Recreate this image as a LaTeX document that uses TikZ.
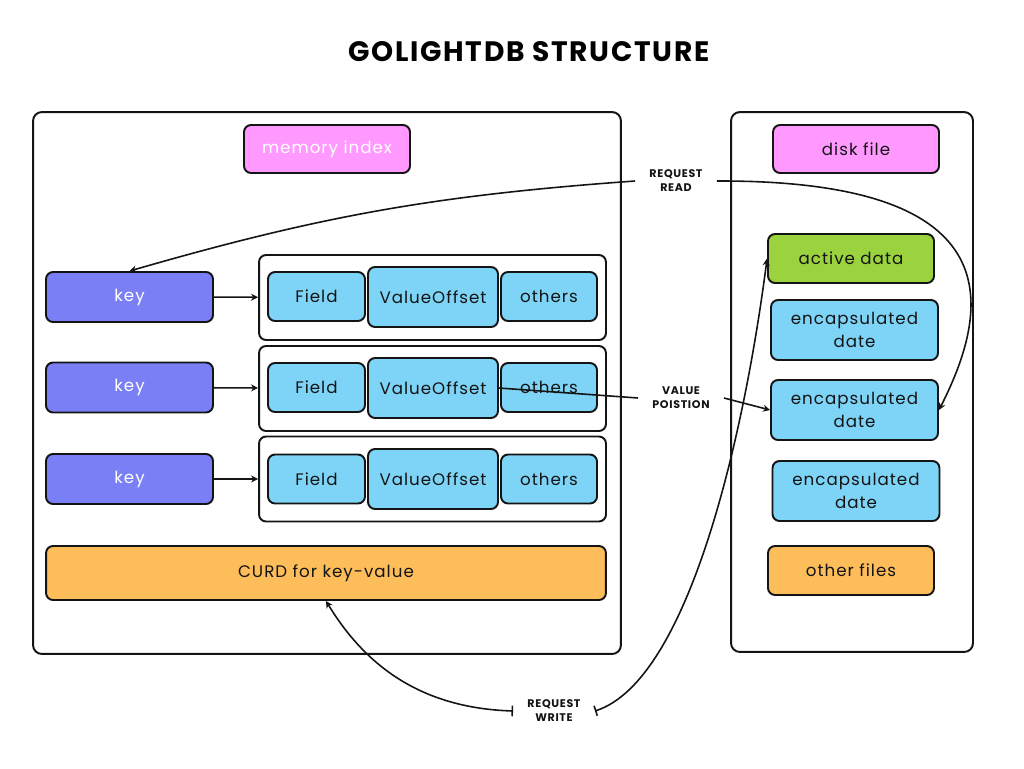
\documentclass[tikz,border=0pt]{standalone}
\usepackage{fontspec}
\setmainfont{Poppins}[LetterSpace=6]
\usetikzlibrary{arrows.meta}
\definecolor{golightPink}{RGB}{255, 153, 255}
\definecolor{golightKey}{RGB}{122, 127, 245}
\definecolor{golightBlue}{RGB}{125, 212, 246}
\definecolor{golightOrange}{RGB}{253, 189, 91}
\definecolor{golightGreen}{RGB}{155, 211, 63}
\definecolor{golightInk}{RGB}{20, 20, 20}

\begin{document}
\begin{tikzpicture}[x=0.02cm, y=-0.02cm,
    panel/.style={draw=golightInk, line width=1.1pt, rounded corners=5pt, inner sep=0pt},
    box/.style={draw=golightInk, line width=1.1pt, rounded corners=4pt, inner sep=0pt, text=golightInk, font=\fontsize{9.5}{12.5}\selectfont, align=center},
    tag/.style={font=\bfseries\fontsize{6.3}{8}\selectfont, align=center, text=golightInk, inner xsep=8pt},
    link/.style={draw=golightInk, line width=0.9pt},
    tip/.style={-{Stealth[length=4pt, width=4pt]}}]
    % Canvas
    \useasboundingbox[fill=white] (0,0) rectangle (1024,768);

    % Title
    \node[font=\bfseries\fontsize{16}{18}\selectfont, text=black] (title) at (529,52) {GOLIGHTDB STRUCTURE};

    % Panels
    \node[panel, minimum width=11.76cm, minimum height=10.84cm] (memory) at (327,383) {};
    \node[panel, minimum width=4.84cm, minimum height=10.8cm] (disk) at (852,382) {};

    % Panel headers
    \node[box, fill=golightPink, text=white, minimum width=3.32cm, minimum height=0.96cm] (memidx) at (327,149) {memory index};
    \node[box, fill=golightPink, minimum width=3.32cm, minimum height=0.96cm] (diskfile) at (856,149) {disk file};

    % Keys
    \node[box, fill=golightKey, text=white, minimum width=3.34cm, minimum height=1.0cm] (key1) at (129.5,297) {key};
    \node[box, fill=golightKey, text=white, minimum width=3.34cm, minimum height=1.0cm] (key2) at (129.5,387.5) {key};
    \node[box, fill=golightKey, text=white, minimum width=3.34cm, minimum height=1.0cm] (key3) at (129.5,479) {key};

    % Records
    \node[panel, rounded corners=4pt, minimum width=6.94cm, minimum height=1.7cm] (rec1) at (432.5,297.5) {};
    \node[panel, rounded corners=4pt, minimum width=6.94cm, minimum height=1.7cm] (rec2) at (432.5,388.5) {};
    \node[panel, rounded corners=4pt, minimum width=6.94cm, minimum height=1.7cm] (rec3) at (432.5,479) {};

    \node[box, fill=golightBlue, minimum width=1.94cm, minimum height=0.98cm] (field1) at (316.5,296.5) {Field};
    \node[box, fill=golightBlue, minimum width=2.6cm, minimum height=1.2cm] (offset1) at (433,297) {ValueOffset};
    \node[box, fill=golightBlue, minimum width=1.92cm, minimum height=0.98cm] (others1) at (549,296.5) {others};

    \node[box, fill=golightBlue, minimum width=1.94cm, minimum height=0.98cm] (field2) at (316.5,387.5) {Field};
    \node[box, fill=golightBlue, minimum width=2.6cm, minimum height=1.2cm] (offset2) at (433,388) {ValueOffset};
    \node[box, fill=golightBlue, minimum width=1.92cm, minimum height=0.98cm] (others2) at (549,387.5) {others};

    \node[box, fill=golightBlue, minimum width=1.94cm, minimum height=0.98cm] (field3) at (316.5,479) {Field};
    \node[box, fill=golightBlue, minimum width=2.6cm, minimum height=1.2cm] (offset3) at (433,479) {ValueOffset};
    \node[box, fill=golightBlue, minimum width=1.92cm, minimum height=0.98cm] (others3) at (549,479) {others};

    \node[box, fill=golightOrange, minimum width=11.2cm, minimum height=1.08cm] (curd) at (326,573) {CURD for key-value};

    % Disk files
    \node[box, fill=golightGreen, minimum width=3.32cm, minimum height=0.98cm] (active) at (851,258.5) {active data};
    \node[box, fill=golightBlue, minimum width=3.34cm, minimum height=1.2cm] (enc1) at (854.5,330) {encapsulated\\[1pt]date};
    \node[box, fill=golightBlue, minimum width=3.34cm, minimum height=1.2cm] (enc2) at (854.5,410) {encapsulated\\[1pt]date};
    \node[box, fill=golightBlue, minimum width=3.34cm, minimum height=1.2cm] (enc3) at (856,491) {encapsulated\\[1pt]date};
    \node[box, fill=golightOrange, minimum width=3.32cm, minimum height=0.98cm] (otherfiles) at (851,570.5) {other files};

    % Labels
    \node[tag] (read) at (676,181) {REQUEST\\READ};
    \node[tag] (position) at (681,398) {VALUE\\POISTION};
    \node[tag] (write) at (554,711) {REQUEST\\WRITE};

    % Arrows
    \draw[link, tip] (key1) -- (rec1);
    \draw[link, tip] (key2) -- (rec2);
    \draw[link, tip] (key3) -- (rec3);

    \draw[link, tip] (read.west) to[bend right=6] (key1.north);
    \draw[link, tip] (read.east) .. controls (1005,180) and (995,300) .. (enc2.east);

    \draw[link] (offset2.east) -- (position.west);
    \draw[link, tip] (position.east) -- (enc2.west);

    \draw[link, {Bar[width=6pt]}-{Stealth[length=4pt, width=4pt]}] (write.west) .. controls (420,708) and (365,665) .. (curd.south);
    \draw[link, {Bar[width=6pt]}-{Stealth[length=4pt, width=4pt]}] (write.east) .. controls (690,680) and (745,430) .. (active.west);
\end{tikzpicture}
\end{document}
